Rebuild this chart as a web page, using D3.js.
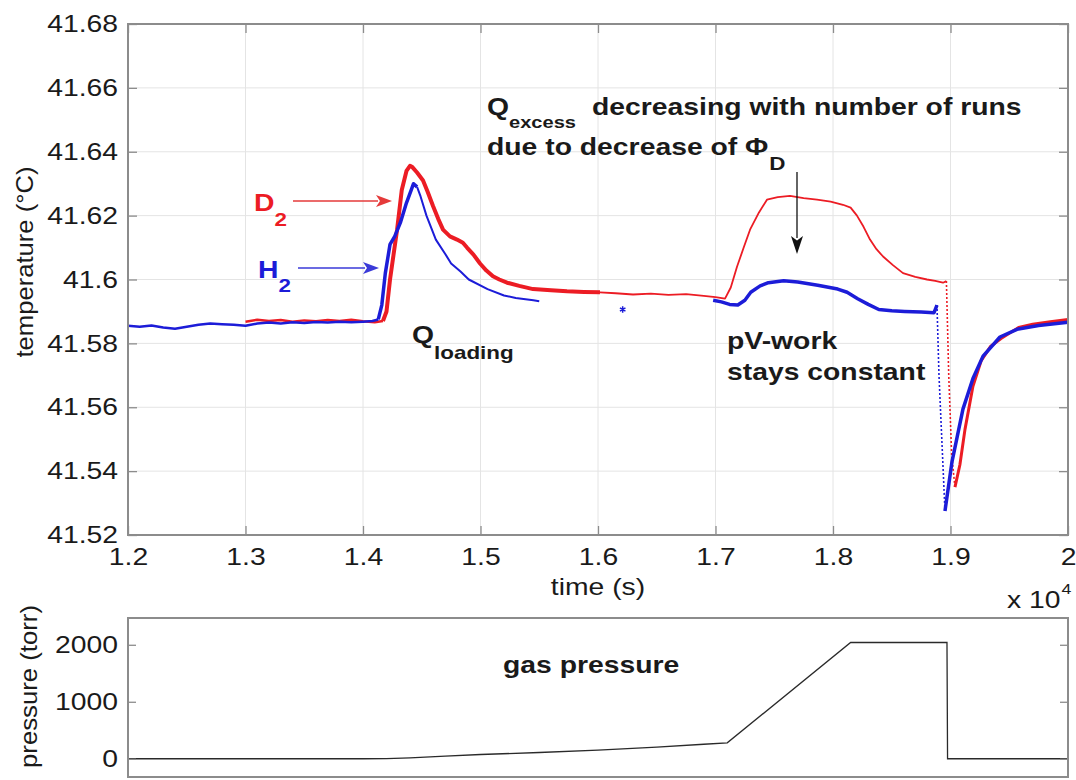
<!DOCTYPE html>
<html><head><meta charset="utf-8">
<script src="https://cdn.jsdelivr.net/npm/d3@7"></script>
<style>body{margin:0;background:#fff}svg{display:block}text{font-family:"Liberation Sans",Arial,sans-serif}</style>
</head><body><svg id="c" width="1076" height="780"></svg>
<script>
// ---------- data (time in s, temperature in °C, pressure in torr) ----------
const d2Time = [13000,13100,13200,13300,13400,13500,13600,13700,13800,13900,14000,14100,14170,14200,14230,14290,14330,14370,14400,14420,14460,14511,14550,14596,14640,14681,14740,14800,14850,14885,14940,14996,15050,15106,15160,15226,15330,15447,15600,15736,15880,16017,16150,16298,16450,16600,16750,16900,17000,17081,17130,17183,17240,17294,17370,17438,17530,17634,17750,17864,17980,18085,18150,18204,18260,18315,18370,18426,18510,18596,18700,18800,18870,18936,18965,18985,19010,19038,19080,19123,19191,19260,19340,19430,19580,19700,19850,20000];
const d2Temp = [41.5868,41.5874,41.5870,41.5873,41.5868,41.5872,41.5869,41.5873,41.5870,41.5874,41.5869,41.5866,41.5870,41.5900,41.6000,41.6156,41.6280,41.6340,41.6356,41.6352,41.6335,41.6310,41.6275,41.6230,41.6190,41.6156,41.6135,41.6125,41.6115,41.6100,41.6078,41.6050,41.6028,41.6010,41.6000,41.5990,41.5980,41.5970,41.5966,41.5963,41.5961,41.5960,41.5957,41.5953,41.5956,41.5952,41.5954,41.5949,41.5945,41.5940,41.5975,41.6040,41.6100,41.6156,41.6210,41.6250,41.6258,41.6262,41.6255,41.6250,41.6244,41.6234,41.6225,41.6200,41.6165,41.6125,41.6095,41.6072,41.6045,41.6020,41.6008,41.6000,41.5996,41.5990,41.5995,41.5700,41.5450,41.5350,41.5420,41.5530,41.5666,41.5745,41.5790,41.5815,41.5850,41.5860,41.5868,41.5875];

const h2Time = [12000,12100,12200,12300,12400,12500,12600,12700,12800,12900,13000,13100,13200,13300,13400,13500,13600,13700,13800,13900,14000,14080,14130,14160,14190,14230,14270,14320,14370,14410,14430,14460,14490,14540,14620,14700,14750,14830,14900,15060,15200,15300,15450,15500,
                16980,17050,17120,17190,17250,17300,17380,17450,17580,17700,17870,18040,18120,18210,18300,18390,18500,18610,18750,18860,18885,18902,18953,19013,19106,19191,19277,19421,19566,19750,20000];
const h2Temp = [41.5855,41.5852,41.5856,41.5850,41.5846,41.5852,41.5858,41.5862,41.5860,41.5858,41.5855,41.5862,41.5865,41.5862,41.5866,41.5864,41.5867,41.5865,41.5868,41.5866,41.5868,41.5870,41.5875,41.5920,41.6020,41.6110,41.6135,41.6180,41.6240,41.6280,41.6300,41.6290,41.6260,41.6200,41.6125,41.6080,41.6050,41.6025,41.6000,41.5970,41.5950,41.5942,41.5935,41.5932,
                41.5935,41.5930,41.5922,41.5920,41.5935,41.5960,41.5980,41.5990,41.5996,41.5992,41.5982,41.5970,41.5960,41.5940,41.5922,41.5906,41.5902,41.5900,41.5898,41.5896,41.5920,41.5700,41.5275,41.5430,41.5594,41.5690,41.5760,41.5820,41.5844,41.5856,41.5866];

const h2MarkTime = [16210];
const h2MarkTemp = [41.5906];

const pressTime = [12000,14000,14200,14400,14700,15000,15500,16000,16500,16900,17100,18150,18970,18975,20000];
const pressVal  = [0,0,2,15,45,75,110,150,205,255,280,2040,2040,0,0];

const timeTicks = [12000,13000,14000,15000,16000,17000,18000,19000,20000];
const timeTickLabels = ["1.2","1.3","1.4","1.5","1.6","1.7","1.8","1.9","2"];
const tempTicks = [41.52,41.54,41.56,41.58,41.60,41.62,41.64,41.66,41.68];
const tempTickLabels = ["41.52","41.54","41.56","41.58","41.6","41.62","41.64","41.66","41.68"];
const pressTicks = [0,1000,2000];
const pressTickLabels = ["0","1000","2000"];

// ---------- layout ----------
const svg = d3.select('#c');
const L = 128, R = 1068, T = 24, B = 535;
const PT = 618, PB = 777;
const x = d3.scaleLinear().domain([12000,20000]).range([L,R]);
const y = d3.scaleLinear().domain([41.52,41.68]).range([B,T]);
const yP = d3.scaleLinear().domain([-320,2470]).range([PB,PT]);
const SX = 1.18;
const RED = '#ec1c24', BLUE = '#1c1cd8', AXC = '#8c8c8c', TXT = '#1a1a1a';

function stretch(sel, f) {
  sel.each(function(){ const w = this.getComputedTextLength();
    d3.select(this).attr('textLength', w*(f||SX)).attr('lengthAdjust','spacingAndGlyphs'); });
  return sel;
}
function txt(px, py, s, o) {
  o = o || {};
  const t = svg.append('text').attr('x',px).attr('y',py).text(s)
    .attr('font-size', o.size||24).attr('font-weight', o.bold?'bold':'normal')
    .attr('fill', o.color||TXT).attr('text-anchor', o.anchor||'start');
  const w = t.node().getComputedTextLength()*SX;
  stretch(t);
  return w;
}
function arrow(x1,y1,x2,y2,color,len,hw,sw){
  const g = svg.append('g');
  const a = Math.atan2(y2-y1,x2-x1);
  const bx = x2 - len*Math.cos(a), by = y2 - len*Math.sin(a);
  g.append('line').attr('x1',x1).attr('y1',y1).attr('x2',bx+2*Math.cos(a)).attr('y2',by+2*Math.sin(a))
    .attr('stroke',color).attr('stroke-width',sw);
  const px = -Math.sin(a)*hw, py = Math.cos(a)*hw;
  g.append('path').attr('d',`M${x2},${y2}L${bx+px},${by+py}L${bx+len*0.25*Math.cos(a)},${by+len*0.25*Math.sin(a)}L${bx-px},${by-py}Z`)
    .attr('fill',color);
}

// ---------- top panel: grid ----------
const grid = svg.append('g');
grid.selectAll('.vg').data(timeTicks.slice(1,-1)).join('line')
  .attr('x1',d=>x(d)).attr('x2',d=>x(d)).attr('y1',T).attr('y2',B)
  .attr('stroke','#e4e4e4').attr('stroke-width',1);
grid.selectAll('.hg').data(tempTicks.slice(1,-1)).join('line')
  .attr('y1',d=>y(d)).attr('y2',d=>y(d)).attr('x1',L).attr('x2',R)
  .attr('stroke','#e4e4e4').attr('stroke-width',1);

// ---------- top panel: data ----------
const d2 = d2Time.map((t,i)=>({t, v:d2Temp[i]}));
const h2 = h2Time.map((t,i)=>({t, v:h2Temp[i]}));
const line = d3.line().x(d=>x(d.t)).y(d=>y(d.v));
function drawSeg(data, a, b, color, w, dash) {
  const seg = data.filter(d=>d.t>=a && d.t<=b);
  svg.append('path').datum(seg).attr('d',line).attr('fill','none').attr('stroke',color)
    .attr('stroke-width',w).attr('stroke-linejoin','round').attr('stroke-dasharray',dash||null);
}
drawSeg(d2,13000,14170,RED,2.5);
drawSeg(d2,14170,16017,RED,4);
drawSeg(d2,16017,18965,RED,1.8);
drawSeg(d2,18965,19038,RED,1.6,'2,2');
drawSeg(d2,19038,20000,RED,3);

drawSeg(h2,12000,14130,BLUE,2.5);
drawSeg(h2,14130,14460,BLUE,3.5);
drawSeg(h2,14460,15500,BLUE,2);
drawSeg(h2,16980,18885,BLUE,3.5);
drawSeg(h2,18885,18953,BLUE,1.6,'2,2');
drawSeg(h2,18953,20000,BLUE,3.5);

svg.selectAll('.mk').data(h2MarkTime).join('path')
  .attr('transform',(d,i)=>`translate(${x(d)},${y(h2MarkTemp[i])})`)
  .attr('d', d3.symbol(d3.symbolAsterisk).size(28)).attr('stroke',BLUE).attr('stroke-width',1.5).attr('fill','none');

// ---------- top panel: axes ----------
const axL = svg.append('g').attr('transform',`translate(${L},0)`)
  .call(d3.axisLeft(y).tickValues(tempTicks).tickFormat((d,i)=>tempTickLabels[i]).tickSizeInner(-9).tickSizeOuter(0).tickPadding(10));
const axR = svg.append('g').attr('transform',`translate(${R},0)`)
  .call(d3.axisRight(y).tickValues(tempTicks).tickFormat('').tickSizeInner(-9).tickSizeOuter(0));
const axB = svg.append('g').attr('transform',`translate(0,${B})`)
  .call(d3.axisBottom(x).tickValues(timeTicks).tickFormat((d,i)=>timeTickLabels[i]).tickSizeInner(-9).tickSizeOuter(0).tickPadding(13));
const axT = svg.append('g').attr('transform',`translate(0,${T})`)
  .call(d3.axisTop(x).tickValues(timeTicks).tickFormat('').tickSizeInner(-9).tickSizeOuter(0));
[axL,axR,axB,axT].forEach(a=>{
  a.select('.domain').remove();
  a.selectAll('line').attr('stroke',AXC).attr('stroke-width',1.3);
  a.selectAll('text').attr('font-size',24).attr('fill',TXT).attr('font-family','"Liberation Sans",Arial,sans-serif');
});
stretch(axL.selectAll('text')); stretch(axB.selectAll('text'));
svg.append('rect').attr('x',L).attr('y',T).attr('width',R-L).attr('height',B-T)
  .attr('fill','none').attr('stroke',AXC).attr('stroke-width',2);

// ---------- bottom panel ----------
const press = pressTime.map((t,i)=>({t, v:pressVal[i]}));
svg.append('path').datum(press)
  .attr('d', d3.line().x(d=>x(d.t)).y(d=>yP(d.v)))
  .attr('fill','none').attr('stroke','#2a2a2a').attr('stroke-width',1.3);
const pL = svg.append('g').attr('transform',`translate(${L},0)`)
  .call(d3.axisLeft(yP).tickValues(pressTicks).tickFormat((d,i)=>pressTickLabels[i]).tickSizeInner(-8).tickSizeOuter(0).tickPadding(10));
const pR = svg.append('g').attr('transform',`translate(${R},0)`)
  .call(d3.axisRight(yP).tickValues(pressTicks).tickFormat('').tickSizeInner(-8).tickSizeOuter(0));
[pL,pR].forEach(a=>{
  a.select('.domain').remove();
  a.selectAll('line').attr('stroke',AXC).attr('stroke-width',1.3);
  a.selectAll('text').attr('font-size',24).attr('fill',TXT).attr('font-family','"Liberation Sans",Arial,sans-serif');
});
stretch(pL.selectAll('text'));
svg.append('rect').attr('x',L).attr('y',PT).attr('width',R-L).attr('height',PB-PT)
  .attr('fill','none').attr('stroke',AXC).attr('stroke-width',2);

// ---------- labels ----------
txt((L+R)/2, 595, 'time (s)', {anchor:'middle'});
const w10 = txt(1007, 608, 'x 10');
txt(1007 + w10 + 1, 594, '4', {size:15});

svg.append('text').attr('transform','translate(33,262) rotate(-90)').attr('text-anchor','middle')
  .attr('font-size',24).attr('fill',TXT).text('temperature (°C)')
  .attr('textLength',191).attr('lengthAdjust','spacingAndGlyphs');
svg.append('text').attr('transform','translate(37,605) rotate(-90)').attr('text-anchor','end')
  .attr('font-size',24).attr('fill',TXT).text('pressure (torr)')
  .attr('textLength',163).attr('lengthAdjust','spacingAndGlyphs');

// ---------- annotations ----------
let w = txt(254, 211, 'D', {bold:true, color:RED});
txt(254 + w, 226, '2', {bold:true, color:RED, size:19});
arrow(293, 201, 392, 201, '#e53a3a', 16, 6, 1.3);

w = txt(258, 278, 'H', {bold:true, color:BLUE});
txt(258 + w, 292, '2', {bold:true, color:BLUE, size:19});
arrow(298, 268, 379, 268, '#3a3ad8', 16, 6, 1.3);

w = txt(412, 343, 'Q', {bold:true});
txt(412 + w, 359, 'loading', {bold:true, size:19});

w = txt(487, 115, 'Q', {bold:true});
txt(487 + w, 128, 'excess', {bold:true, size:17});
txt(592, 115, 'decreasing with number of runs', {bold:true});
w = txt(487, 155, 'due to decrease of Φ', {bold:true});
txt(487 + w + 1, 170, 'D', {bold:true, size:19});
arrow(797, 172, 797, 254, '#111', 18, 6, 1.3);

txt(727, 349, 'pV-work', {bold:true});
txt(727, 380, 'stays constant', {bold:true});

txt(503, 673, 'gas pressure', {bold:true});
</script></body></html>
